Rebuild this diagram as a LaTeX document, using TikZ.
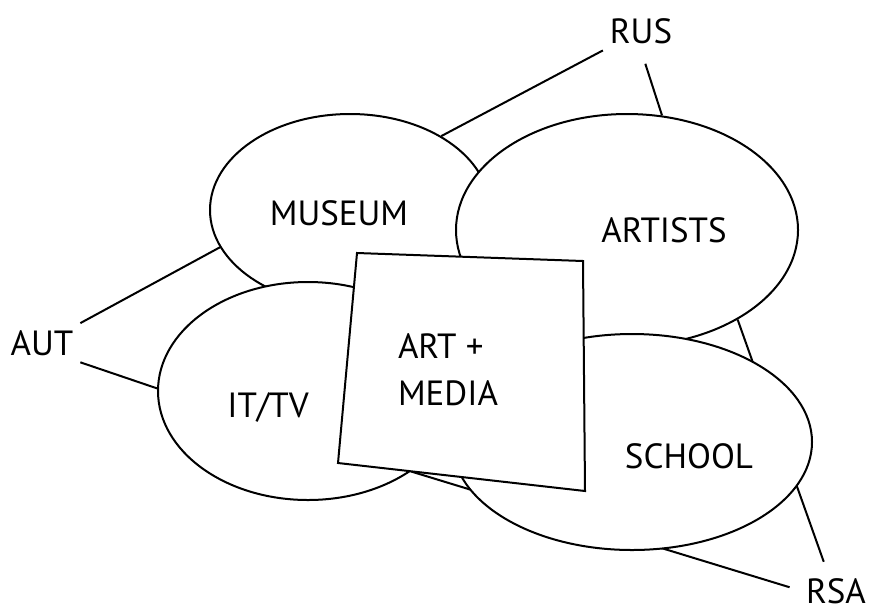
\documentclass[tikz,border=0pt]{standalone}
\usepackage{fontspec}
\setmainfont{PT Sans}
\usetikzlibrary{positioning, shapes, backgrounds}

\begin{document}
\begin{tikzpicture}[x=1pt, y=-1pt, font=\fontsize{35}{47}\selectfont, line width=2pt,
    blob/.style={ellipse, draw, fill=white, inner sep=0pt},
    tag/.style={inner sep=6pt, anchor=base},
    link/.style={draw, line width=2pt}]
\useasboundingbox (0,0) rectangle (877,614);
% the four fields, back to front
\node[blob, minimum width=280pt, minimum height=192pt] (museum) at (350,210) {};
\node[blob, minimum width=342pt, minimum height=232pt] (artists) at (627,230) {};
\node[blob, minimum width=300pt, minimum height=218pt] (itv) at (308,391) {};
\node[blob, minimum width=360pt, minimum height=216pt] (school) at (632,442) {};
\draw[fill=white] (357,253) -- (583,261) -- (585,491) -- (338,463) -- cycle;

\node[tag] (museumtxt) at (339,225) {MUSEUM};
\node[tag] (artiststxt) at (664,242) {ARTISTS};
\node[tag] (itvtxt) at (268,417) {IT/TV};
\node[tag] (schooltxt) at (689,468) {SCHOOL};
\node[inner sep=0pt, align=left, anchor=north west] (art) at (397,333) {ART +\\MEDIA};

% countries
\node[tag] (rus) at (641,43) {RUS};
\node[tag] (aut) at (42,355) {AUT};
\node[tag, inner sep=4pt] (rsa) at (836,603) {RSA};

\begin{scope}[on background layer]
\path[link] (aut.north east) -- (museum.196);
\path[link] (aut.south east) -- (itv.179);
\path[link] (rus.south west) -- (museum.39);
\path[link, shorten <=14pt] (rus.south) -- (artists.73);
\path[link, shorten <=12pt] (rsa.115) -- (artists.-39);
\path[link, shorten <=12pt] (rsa.west) -- (itv.-38);
\end{scope}
\end{tikzpicture}
\end{document}
